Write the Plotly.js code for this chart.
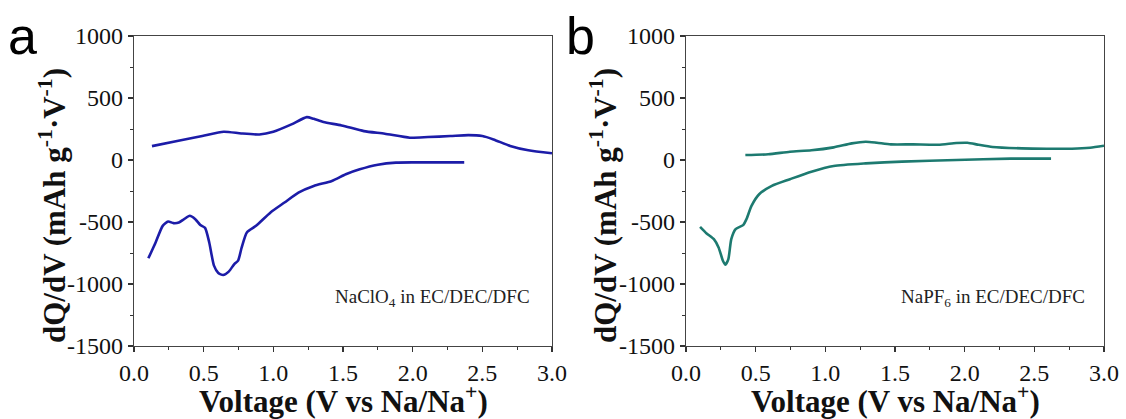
<!DOCTYPE html>
<html>
<head>
<meta charset="utf-8">
<script src="https://cdn.plot.ly/plotly-3.0.1.min.js"></script>
<style>
html,body{margin:0;padding:0;background:#fff;}
#chart{width:1126px;height:419px;}
</style>
</head>
<body>
<div id="chart"></div>
<script>
// Panel a: NaClO4 in EC/DEC/DFC
const aChargeV = [0.129,0.31,0.49,0.644,0.77,0.90,1.00,1.13,1.24,1.29,1.36,1.49,1.65,1.80,1.98,2.11,2.27,2.40,2.50,2.58,2.70,2.83,3.0];
const aChargeQ = [112,153,193,228,214,206,228,287,346,332,306,279,233,212,180,185,193,201,193,166,113,78,54];
const aDischV = [0.103,0.155,0.206,0.245,0.283,0.322,0.36,0.40,0.44,0.476,0.51,0.54,0.574,0.605,0.64,0.68,0.72,0.747,0.773,0.81,0.876,0.98,1.08,1.18,1.29,1.42,1.52,1.62,1.75,1.88,2.01,2.16,2.37];
const aDischQ = [-793,-665,-531,-496,-509,-504,-477,-450,-477,-525,-547,-665,-852,-911,-927,-900,-839,-812,-705,-584,-531,-423,-343,-263,-209,-169,-115,-75,-38,-21,-19,-19,-19];

// Panel b: NaPF6 in EC/DEC/DFC
const bChargeV = [0.426,0.59,0.746,0.90,1.06,1.19,1.29,1.37,1.47,1.63,1.81,1.94,2.02,2.10,2.20,2.41,2.59,2.77,2.90,3.0];
const bChargeQ = [40,46,67,78,102,134,147,139,126,126,123,137,139,123,105,94,91,91,99,115];
const bDischV = [0.101,0.148,0.20,0.234,0.265,0.283,0.304,0.325,0.356,0.41,0.434,0.47,0.525,0.616,0.746,0.90,1.06,1.29,1.55,1.94,2.33,2.62];
const bDischQ = [-539,-592,-638,-705,-812,-844,-799,-638,-557,-525,-477,-370,-276,-209,-155,-94,-48,-27,-13,0,11,11];

// Tick labels
const xTickVals = [0,0.5,1.0,1.5,2.0,2.5,3.0];
const xTickText = ["0.0","0.5","1.0","1.5","2.0","2.5","3.0"];
const yTickVals = [-1500,-1000,-500,0,500,1000];
const yTickText = ["-1500","-1000","-500","0","500","1000"];

const colorA = "#1c1ca8";
const colorB = "#1d7a70";
const serif = "Liberation Serif, Times New Roman, serif";
const sans = "Liberation Sans, Arial, sans-serif";
const yTitle = "<b>dQ/dV (mAh g<sup>-1</sup>·V<sup>-1</sup>)</b>";
const xTitle = "<b>Voltage (V vs Na/Na<sup>+</sup>)</b>";

const traces = [
  {x:aChargeV, y:aChargeQ, xaxis:"x", yaxis:"y", mode:"lines", line:{color:colorA, width:2.6, shape:"spline", smoothing:0.6}},
  {x:aDischV, y:aDischQ, xaxis:"x", yaxis:"y", mode:"lines", line:{color:colorA, width:2.6, shape:"spline", smoothing:0.6}},
  {x:bChargeV, y:bChargeQ, xaxis:"x2", yaxis:"y2", mode:"lines", line:{color:colorB, width:2.6, shape:"spline", smoothing:0.6}},
  {x:bDischV, y:bDischQ, xaxis:"x2", yaxis:"y2", mode:"lines", line:{color:colorB, width:2.6, shape:"spline", smoothing:0.6}}
];

function xAx(domain, anchor){
  return {
    domain: domain, anchor: anchor, range:[0,3],
    tickvals: xTickVals, ticktext: xTickText,
    ticks:"outside", ticklen:5, tickwidth:1.2, tickcolor:"#333",
    minor:{ticks:"outside", ticklen:3, tickwidth:1, tickcolor:"#333", dtick:0.25},
    showline:true, linecolor:"#444", linewidth:1.3, mirror:true,
    showgrid:false, zeroline:false,
    tickfont:{family:serif, size:24, color:"#111"}
  };
}
function yAx(anchor){
  return {
    domain:[0,1], anchor: anchor, range:[-1500,1000],
    tickvals: yTickVals, ticktext: yTickText,
    ticks:"outside", ticklen:5, tickwidth:1.2, tickcolor:"#333",
    minor:{ticks:"outside", ticklen:3, tickwidth:1, tickcolor:"#333", dtick:250},
    showline:true, linecolor:"#444", linewidth:1.3, mirror:true,
    showgrid:false, zeroline:false,
    tickfont:{family:serif, size:24, color:"#111"}
  };
}

const xtY = (346-421)/310;
const layout = {
  width:1126, height:419,
  margin:{l:0, r:0, t:36, b:73},
  paper_bgcolor:"#fff", plot_bgcolor:"#fff",
  showlegend:false,
  xaxis: xAx([134/1126, 552/1126], "y"),
  yaxis: yAx("x"),
  xaxis2: xAx([686/1126, 1104/1126], "y2"),
  yaxis2: yAx("x2"),
  annotations:[
    {xref:"x", yref:"y", x:2.86, y:-1110, xanchor:"right", yanchor:"middle", showarrow:false,
     text:"NaClO<sub>4</sub> in EC/DEC/DFC", font:{family:serif, size:19, color:"#222"}},
    {xref:"x2", yref:"y2", x:2.88, y:-1110, xanchor:"right", yanchor:"middle", showarrow:false,
     text:"NaPF<sub>6</sub> in EC/DEC/DFC", font:{family:serif, size:19, color:"#222"}},
    {xref:"paper", yref:"paper", x:(134+552)/2/1126, y:xtY, xanchor:"center", yanchor:"bottom", showarrow:false,
     text:xTitle, font:{family:serif, size:31, color:"#111"}},
    {xref:"paper", yref:"paper", x:(686+1104)/2/1126, y:xtY, xanchor:"center", yanchor:"bottom", showarrow:false,
     text:xTitle, font:{family:serif, size:31, color:"#111"}},
    {xref:"paper", yref:"paper", x:52/1126, y:(346-206)/310, xanchor:"center", yanchor:"middle", showarrow:false,
     textangle:-90, text:yTitle, font:{family:serif, size:31, color:"#111"}},
    {xref:"paper", yref:"paper", x:603/1126, y:(346-206)/310, xanchor:"center", yanchor:"middle", showarrow:false,
     textangle:-90, text:yTitle, font:{family:serif, size:31, color:"#111"}},
    {xref:"paper", yref:"paper", x:6/1126, y:0.90, xanchor:"left", yanchor:"bottom", showarrow:false,
     text:"a", font:{family:sans, size:52, color:"#000"}},
    {xref:"paper", yref:"paper", x:564/1126, y:0.90, xanchor:"left", yanchor:"bottom", showarrow:false,
     text:"b", font:{family:sans, size:52, color:"#000"}}
  ]
};

Plotly.newPlot("chart", traces, layout, {staticPlot:true, displayModeBar:false});
</script>
</body>
</html>
